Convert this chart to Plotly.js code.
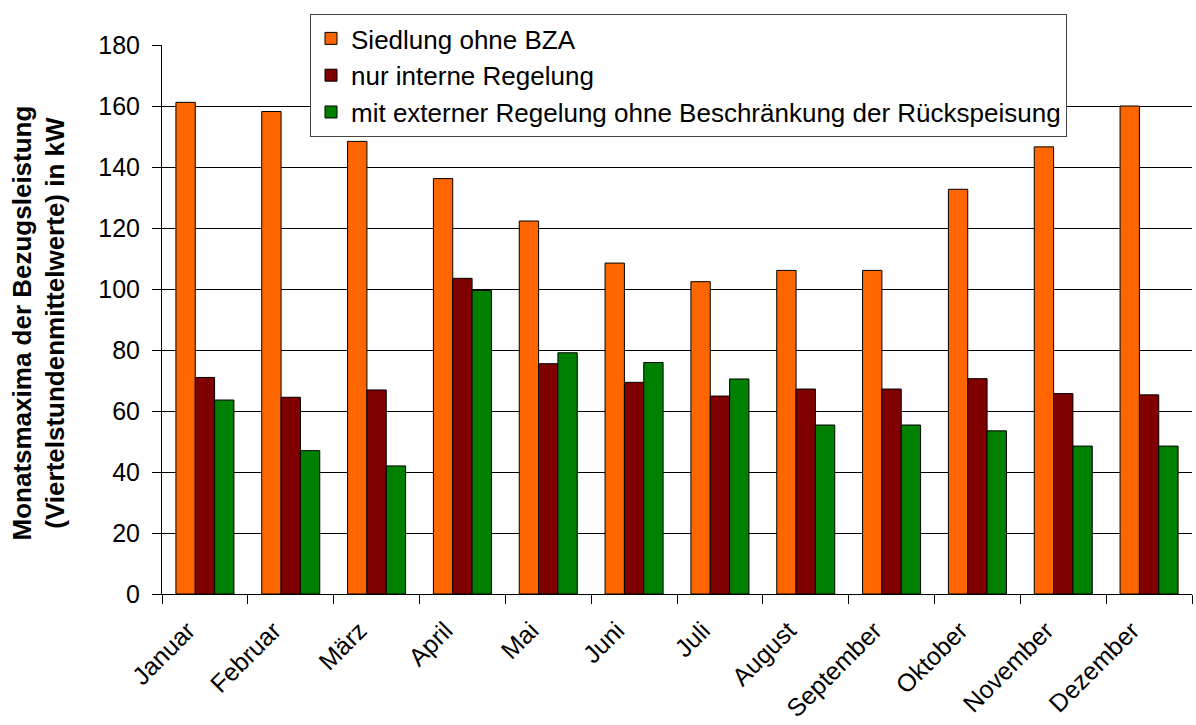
<!DOCTYPE html>
<html>
<head>
<meta charset="utf-8">
<script src="https://cdn.plot.ly/plotly-3.0.1.min.js"></script>
<style>html,body{margin:0;padding:0;background:#fff;}#chart{width:1196px;height:725px;}</style>
</head>
<body>
<div id="chart"></div>
<script>
var months = ["Januar","Februar","März","April","Mai","Juni","Juli","August","September","Oktober","November","Dezember"];
var seriesNames = ["Siedlung ohne BZA","nur interne Regelung","mit externer Regelung ohne Beschränkung der Rückspeisung"];
var siedlungOhneBZA = [161.2,158.2,148.4,136.2,122.3,108.5,102.4,106.1,106.1,132.7,146.6,160.0];
var nurInterneRegelung = [71.0,64.5,66.9,103.5,75.5,69.4,64.9,67.2,67.2,70.6,65.7,65.3];
var mitExternerRegelung = [63.6,47.0,42.0,99.5,79.1,75.9,70.5,55.4,55.4,53.5,48.5,48.5];
var yTicks = [0,20,40,60,80,100,120,140,160,180];
var yTitle = "Monatsmaxima der Bezugsleistung<br>(Viertelstundenmittelwerte) in kW";
var colors = ["#FF6600","#800000","#008000"];

var font = "Liberation Sans, Arial, sans-serif";
var values = [siedlungOhneBZA, nurInterneRegelung, mitExternerRegelung];
var traces = values.map(function(v,i){
  return {type:"bar", x:months, y:v, name:seriesNames[i], legendgroup:"g"+i,
    marker:{color:colors[i], line:{color:"#000", width:1}}, hoverinfo:"x+y"};
});

var layout = {
  width:1196, height:725,
  margin:{l:162, r:4, t:45, b:131},
  paper_bgcolor:"#fff", plot_bgcolor:"#fff",
  font:{family:font, size:25, color:"#000"},
  barmode:"group", bargap:0.324, bargroupgap:0,
  showlegend:true,
  legend:{x:0.1437, y:1.0565, xanchor:"left", yanchor:"top",
    bgcolor:"#fff", bordercolor:"#444", borderwidth:1,
    font:{family:font, size:26, color:"#000"}, tracegroupgap:2, traceorder:"normal"},
  xaxis:{type:"category", tickangle:-45, tickson:"boundaries", ticks:"outside", ticklen:9,
    tickcolor:"#000", showline:true, linecolor:"#000", linewidth:1, showgrid:false,
    ticklabelstandoff:11, ticklabelshift:-17,
    tickfont:{family:font, size:25, color:"#000"}, automargin:false},
  yaxis:{range:[0,180], tickvals:yTicks, ticktext:yTicks.map(String), ticks:"outside", ticklen:9,
    tickcolor:"#000", showline:true, linecolor:"#000", linewidth:1,
    showgrid:true, gridcolor:"#000", gridwidth:1, zeroline:false,
    ticklabelstandoff:7,
    tickfont:{family:font, size:25, color:"#000"}, automargin:false},
  annotations:[{text:yTitle, textangle:-90, xref:"paper", yref:"paper", x:0, y:0.5,
    xanchor:"center", yanchor:"middle", xshift:-124, yshift:-4, showarrow:false,
    font:{family:font, size:26, color:"#000", weight:"bold"}}]
};
Plotly.newPlot("chart", traces, layout, {staticPlot:true});
</script>
</body>
</html>
